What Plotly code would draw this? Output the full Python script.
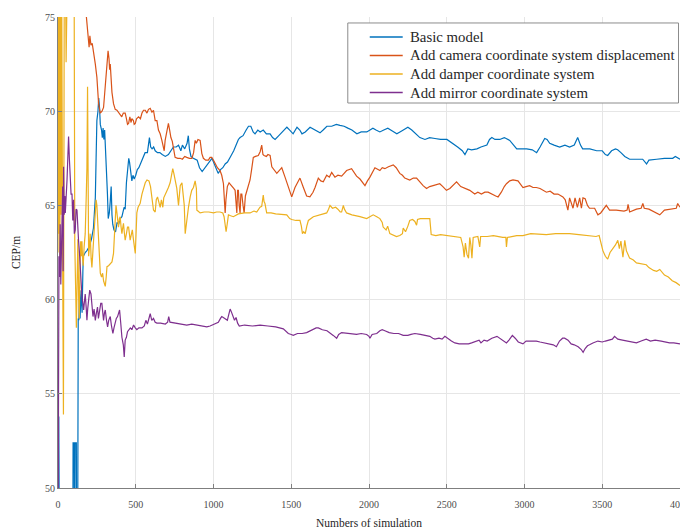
import plotly.graph_objects as go

# ---------------- data ----------------
basic_x = [0, 5, 10, 95, 97, 104, 106, 110, 118, 120, 126, 130, 134, 138, 142, 148, 155, 160, 163, 175, 186, 200, 215, 228, 235, 240, 245, 250, 257, 262, 267, 272, 280, 285, 290, 295, 300, 305, 312, 318, 323, 330, 336, 342, 347, 352, 360, 370, 380, 390, 400, 411, 425, 432, 440, 447, 455, 460, 468, 475, 482, 490, 500, 510, 520, 530, 545, 560, 575, 588, 596, 605, 615, 625, 640, 655, 670, 690, 710, 725, 742, 760, 775, 790, 800, 815, 830, 838, 845, 855, 870, 895, 910, 927, 945, 960, 978, 990, 1000, 1015, 1030, 1045, 1060, 1075, 1090, 1110, 1130, 1150, 1160, 1171, 1190, 1210, 1225, 1240, 1255, 1267, 1285, 1300, 1320, 1340, 1364, 1380, 1396, 1420, 1445, 1472, 1490, 1512, 1537, 1555, 1569, 1590, 1621, 1650, 1685, 1705, 1729, 1760, 1790, 1813, 1840, 1864, 1890, 1922, 1950, 1986, 2025, 2045, 2070, 2095, 2121, 2150, 2179, 2210, 2250, 2275, 2300, 2327, 2360, 2390, 2424, 2460, 2501, 2520, 2540, 2570, 2600, 2617, 2636, 2660, 2694, 2720, 2758, 2775, 2790, 2810, 2841, 2870, 2905, 2930, 2950, 2980, 3014, 3050, 3078, 3100, 3130, 3145, 3162, 3190, 3226, 3260, 3290, 3320, 3342, 3360, 3374, 3420, 3464, 3500, 3520, 3535, 3560, 3585, 3599, 3620, 3645, 3676, 3720, 3760, 3785, 3800, 3850, 3900, 3953, 3970, 4000]
basic_y = [45, 53.8, 45, 45, 52.4, 52.4, 45, 52.4, 52.4, 45, 45, 59, 58.9, 60.3, 59, 60.5, 59.3, 61.5, 62.3, 62.5, 62.6, 62.8, 63.2, 63.8, 64.5, 65.4, 67.5, 69.5, 70.0, 70.7, 70.2, 69.3, 69.0, 68.6, 69.1, 68.5, 69.0, 68.2, 67.0, 65.6, 64.3, 64.6, 65.2, 66.0, 64.5, 64.0, 63.7, 63.6, 64.1, 64.0, 64.3, 64.4, 64.9, 64.8, 66.2, 66.9, 67.5, 67.3, 66.6, 66.3, 66.6, 66.4, 66.6, 66.9, 67.0, 67.2, 67.4, 67.8, 67.8, 68.6, 68.1, 68.0, 68.1, 67.9, 67.8, 67.8, 67.7, 67.6, 67.7, 67.9, 68.1, 68.1, 68.2, 67.9, 68.2, 68.0, 68.3, 68.7, 68.0, 67.6, 67.5, 67.4, 67.0, 66.8, 67.0, 67.2, 67.4, 67.5, 67.3, 67.0, 66.7, 66.9, 67.0, 67.2, 67.3, 67.6, 67.9, 68.3, 68.5, 68.6, 68.7, 69.0, 69.2, 69.2, 68.9, 68.8, 69.0, 68.9, 69.0, 68.8, 68.8, 68.6, 68.5, 68.7, 68.9, 69.15, 69.0, 68.8, 69.15, 69.0, 68.8, 68.9, 69.15, 69.0, 68.85, 69.0, 69.2, 69.2, 69.3, 69.25, 69.2, 69.1, 69.0, 68.8, 68.9, 68.9, 69.1, 69.0, 68.9, 69.0, 69.1, 68.95, 68.8, 68.95, 69.15, 69.0, 68.8, 68.6, 68.5, 68.6, 68.55, 68.5, 68.5, 68.4, 68.3, 68.1, 67.9, 67.7, 68.0, 67.95, 68.0, 68.1, 68.2, 68.5, 68.6, 68.5, 68.5, 68.6, 68.45, 68.2, 68.0, 68.0, 68.0, 67.95, 67.8, 68.1, 68.55, 68.5, 68.3, 68.2, 68.1, 68.2, 68.1, 68.2, 68.6, 68.2, 68.0, 68.0, 67.9, 67.9, 67.7, 67.65, 67.9, 68.0, 67.95, 67.8, 67.6, 67.45, 67.45, 67.45, 67.2, 67.4, 67.45, 67.5, 67.5, 67.6, 67.45]

camera_x = [0, 5, 8, 12, 18, 24, 60, 150, 180, 190, 195, 200, 205, 212, 220, 229, 240, 250, 261, 272, 283, 293, 305, 315, 322, 328, 332, 336, 342, 347, 357, 368, 379, 390, 400, 410, 420, 432, 440, 447, 454, 462, 470, 475, 485, 490, 497, 505, 518, 530, 540, 550, 561, 572, 582, 593, 604, 614, 625, 636, 646, 657, 668, 678, 683, 689, 696, 703, 710, 718, 726, 735, 742, 753, 770, 786, 800, 815, 828, 845, 861, 872, 882, 890, 900, 914, 925, 935, 950, 967, 978, 989, 1000, 1010, 1025, 1042, 1053, 1064, 1070, 1075, 1080, 1089, 1100, 1118, 1130, 1139, 1145, 1150, 1155, 1160, 1165, 1171, 1176, 1182, 1190, 1197, 1205, 1214, 1225, 1235, 1245, 1256, 1270, 1288, 1300, 1310, 1318, 1325, 1340, 1350, 1364, 1375, 1407, 1439, 1460, 1481, 1503, 1524, 1545, 1556, 1578, 1599, 1620, 1640, 1653, 1674, 1690, 1706, 1728, 1745, 1760, 1781, 1800, 1824, 1840, 1856, 1888, 1905, 1920, 1942, 1974, 1990, 2006, 2038, 2055, 2070, 2085, 2102, 2125, 2156, 2175, 2198, 2215, 2230, 2262, 2285, 2306, 2330, 2348, 2370, 2390, 2412, 2435, 2455, 2475, 2498, 2520, 2545, 2563, 2590, 2616, 2648, 2680, 2700, 2723, 2745, 2766, 2798, 2815, 2830, 2851, 2870, 2884, 2905, 2926, 2958, 2975, 2990, 3010, 3033, 3055, 3076, 3100, 3120, 3141, 3165, 3190, 3215, 3247, 3262, 3269, 3279, 3290, 3300, 3312, 3325, 3340, 3355, 3366, 3376, 3390, 3405, 3418, 3451, 3472, 3490, 3504, 3526, 3547, 3590, 3640, 3660, 3666, 3676, 3720, 3750, 3761, 3770, 3800, 3847, 3870, 3900, 3940, 3976, 3985, 4000]
camera_y = [77, 74.2, 73.8, 76.5, 74.3, 77, 80, 78, 75.3, 74.2, 74.0, 73.4, 74.0, 73.5, 73.6, 73.2, 72.5, 71.8, 70.4, 69.9, 70.0, 70.2, 71.5, 72.35, 73.2, 72.8, 72.2, 72.5, 71.6, 71.0, 70.4, 70.1, 70.05, 69.9, 69.8, 69.7, 69.9, 69.9, 69.6, 69.3, 69.35, 69.7, 69.4, 69.6, 69.5, 69.3, 69.35, 69.6, 69.7, 69.6, 69.9, 70.05, 70.05, 69.9, 70.1, 70.15, 69.95, 70.05, 69.5, 69.5, 69.0, 68.8, 68.45, 68.1, 67.9, 68.45, 68.8, 69.2, 69.35, 69.0, 68.6, 68.4, 68.1, 67.55, 67.5, 67.5, 67.45, 67.6, 67.55, 67.5, 67.5, 67.8, 68.45, 68.3, 68.5, 68.45, 67.75, 67.5, 67.4, 67.4, 67.55, 67.55, 67.4, 67.2, 67.0, 66.85, 66.6, 66.15, 65.2, 64.6, 65.3, 66.0, 66.2, 66.05, 65.9, 65.8, 65.2, 64.6, 65.8, 65.8, 65.0, 64.6, 65.6, 65.6, 65.0, 64.6, 65.5, 65.8, 66.1, 66.35, 66.9, 67.55, 67.6, 67.65, 67.85, 68.2, 67.7, 67.65, 67.6, 67.7, 67.65, 67.05, 66.7, 67.0, 66.5, 65.95, 65.45, 65.95, 66.3, 66.45, 65.95, 65.5, 65.45, 65.7, 65.95, 66.45, 66.3, 66.25, 66.6, 66.5, 66.75, 66.5, 66.6, 66.55, 66.7, 66.85, 66.95, 66.7, 66.55, 66.4, 66.05, 66.3, 66.5, 67.0, 66.9, 66.85, 67.0, 66.95, 67.05, 67.15, 67.0, 66.7, 66.6, 66.45, 66.35, 66.45, 66.45, 66.2, 66.05, 65.9, 66.0, 66.05, 66.1, 66.15, 66.0, 65.8, 65.9, 66.1, 66.25, 66.0, 65.9, 65.8, 65.6, 65.7, 65.6, 65.7, 65.7, 65.55, 65.5, 65.45, 65.7, 66.0, 66.15, 66.3, 66.35, 66.3, 66.1, 65.95, 66.0, 66.05, 65.95, 65.95, 65.9, 65.8, 65.7, 65.75, 65.6, 65.6, 65.45, 65.3, 65.0, 64.75, 65.4, 65.1, 64.85, 65.4, 64.9, 65.4, 64.85, 65.4, 65.35, 65.0, 64.85, 64.85, 64.5, 64.6, 64.75, 65.0, 64.75, 64.75, 64.7, 64.75, 65.05, 64.65, 64.8, 64.85, 65.1, 64.85, 64.8, 64.6, 64.5, 64.75, 64.8, 64.85, 65.1, 64.9]

damper_x = [0, 3, 6, 9, 12, 16, 20, 24, 30, 35, 40, 48, 52, 56, 65, 100, 104, 108, 113, 118, 123, 128, 133, 137, 142, 146, 150, 154, 158, 162, 168, 175, 182, 186, 190, 194, 197, 202, 207, 213, 218, 224, 229, 235, 240, 245, 250, 255, 261, 266, 272, 280, 287, 293, 300, 304, 310, 315, 325, 336, 347, 357, 362, 368, 373, 379, 384, 389, 395, 400, 405, 411, 416, 421, 426, 432, 440, 447, 454, 459, 464, 470, 478, 485, 490, 497, 502, 507, 515, 528, 540, 550, 561, 572, 585, 595, 603, 610, 614, 625, 632, 640, 650, 657, 665, 674, 680, 689, 700, 710, 721, 732, 738, 745, 755, 764, 775, 786, 797, 807, 812, 818, 823, 828, 839, 850, 860, 871, 882, 890, 893, 900, 914, 940, 970, 1000, 1020, 1042, 1060, 1068, 1075, 1081, 1088, 1096, 1110, 1128, 1160, 1200, 1235, 1260, 1278, 1290, 1299, 1310, 1320, 1325, 1331, 1342, 1370, 1400, 1440, 1471, 1490, 1503, 1530, 1556, 1565, 1572, 1580, 1590, 1600, 1610, 1642, 1680, 1700, 1728, 1740, 1749, 1765, 1785, 1800, 1815, 1824, 1835, 1842, 1856, 1890, 1920, 1942, 1985, 2010, 2027, 2050, 2070, 2085, 2091, 2110, 2120, 2134, 2150, 2177, 2198, 2215, 2220, 2235, 2250, 2262, 2280, 2295, 2306, 2312, 2330, 2380, 2391, 2400, 2430, 2460, 2500, 2590, 2605, 2612, 2620, 2630, 2640, 2648, 2655, 2662, 2670, 2700, 2712, 2718, 2760, 2800, 2860, 2880, 2884, 2890, 2950, 2990, 3040, 3100, 3140, 3200, 3290, 3350, 3418, 3460, 3480, 3504, 3520, 3535, 3550, 3570, 3585, 3600, 3610, 3620, 3633, 3645, 3655, 3676, 3700, 3720, 3745, 3783, 3800, 3830, 3850, 3870, 3900, 3925, 3950, 3975, 4000]
damper_y = [62.5, 75.5, 63.5, 76, 61.6, 77, 64.5, 76, 62, 53.9, 75.5, 78, 72.6, 76, 80, 80, 76, 63.0, 60.5, 58.5, 61, 63.2, 60, 59, 62, 63.1, 62.3, 63.1, 62.2, 61.8, 62.8, 63.5, 65.6, 67, 71.3, 66, 62.3, 62.8, 63.5, 62.2, 61.7, 62.5, 63.2, 64.0, 64.9, 65.3, 65.0, 64.2, 63.5, 62.5, 61.4, 61.2, 61.4, 61.0, 60.8, 60.7, 61.2, 61.75, 61.8, 61.9, 62.0, 62.45, 63.5, 64.75, 65.0, 64.6, 64.1, 63.85, 64.3, 64.4, 63.9, 63.5, 63.8, 64.05, 63.6, 63.15, 63.5, 63.85, 63.85, 63.4, 63.15, 63.4, 63.7, 63.2, 62.8, 62.45, 63.5, 64.6, 64.9, 65.1, 65.6, 65.95, 66.2, 66.35, 66.3, 66.0, 65.3, 65.1, 64.75, 64.65, 65.3, 65.45, 65.1, 64.9, 65.3, 64.9, 65.4, 65.55, 65.8, 65.95, 66.2, 66.7, 66.95, 66.7, 66.2, 65.9, 65.0, 66.05, 66.2, 65.4, 65.0, 63.5, 63.9, 64.4, 64.9, 65.45, 65.8, 65.95, 66.3, 65.9, 64.75, 64.7, 64.6, 64.65, 64.65, 64.6, 64.65, 64.65, 64.6, 64.4, 63.9, 63.6, 64.0, 64.5, 64.45, 64.4, 64.55, 64.6, 64.6, 64.7, 64.65, 64.8, 64.9, 64.95, 65.55, 65.2, 65.1, 64.6, 64.6, 64.55, 64.5, 64.5, 64.3, 64.25, 64.2, 64.2, 63.9, 63.5, 63.6, 63.5, 63.9, 64.2, 64.4, 64.5, 64.55, 64.6, 64.8, 65.0, 64.85, 64.9, 64.8, 64.65, 64.65, 65.0, 64.8, 64.6, 64.5, 64.45, 64.4, 64.3, 64.4, 64.5, 64.4, 64.3, 64.1, 63.85, 63.7, 63.9, 63.5, 63.45, 63.35, 63.4, 63.5, 63.8, 63.6, 63.9, 64.2, 64.25, 64.15, 63.95, 64.25, 64.3, 64.3, 64.3, 63.45, 63.4, 63.45, 63.4, 63.3, 62.8, 62.25, 63.0, 62.4, 62.2, 63.3, 62.9, 62.2, 63.3, 63.35, 62.8, 63.35, 63.35, 63.4, 63.3, 63.3, 62.8, 63.3, 63.4, 63.4, 63.5, 63.45, 63.45, 63.5, 63.5, 63.45, 63.4, 63.35, 63.4, 62.6, 62.3, 62.15, 62.5, 62.7, 62.9, 63.15, 62.7, 63.1, 62.25, 63.15, 62.6, 62.2, 62.1, 61.95, 61.9, 61.85, 61.7, 61.55, 61.5, 61.6, 61.3, 61.2, 61.0, 60.9, 60.75]

mirror_x = [0, 4, 6, 10, 14, 18, 22, 25, 30, 33, 36, 40, 44, 47, 52, 58, 63, 68, 73, 79, 84, 90, 95, 100, 105, 111, 116, 122, 127, 132, 138, 143, 149, 154, 160, 165, 170, 175, 181, 186, 191, 197, 204, 212, 218, 225, 232, 240, 247, 254, 260, 268, 275, 282, 287, 293, 299, 304, 312, 319, 326, 336, 344, 353, 360, 368, 375, 383, 390, 396, 403, 411, 420, 426, 432, 440, 447, 454, 465, 475, 486, 497, 507, 520, 540, 555, 565, 575, 585, 593, 603, 614, 625, 636, 660, 690, 705, 712, 720, 760, 800, 828, 860, 900, 935, 957, 978, 1000, 1020, 1031, 1045, 1053, 1063, 1075, 1089, 1098, 1107, 1115, 1125, 1135, 1145, 1155, 1166, 1200, 1250, 1300, 1350, 1400, 1449, 1465, 1481, 1500, 1513, 1540, 1570, 1599, 1620, 1642, 1660, 1674, 1700, 1730, 1749, 1770, 1792, 1805, 1824, 1870, 1920, 1950, 1985, 2000, 2006, 2020, 2050, 2070, 2085, 2102, 2130, 2160, 2190, 2220, 2250, 2270, 2295, 2330, 2360, 2391, 2410, 2424, 2450, 2470, 2488, 2510, 2530, 2552, 2580, 2605, 2640, 2660, 2690, 2708, 2720, 2740, 2760, 2790, 2823, 2850, 2870, 2884, 2900, 2922, 2940, 2960, 2990, 3010, 3040, 3076, 3100, 3130, 3160, 3185, 3205, 3225, 3245, 3258, 3280, 3300, 3320, 3345, 3365, 3377, 3390, 3405, 3418, 3440, 3472, 3500, 3520, 3545, 3565, 3579, 3600, 3630, 3660, 3676, 3700, 3720, 3750, 3783, 3810, 3840, 3879, 3900, 3933, 3960, 4000]
mirror_y = [45, 61.4, 62.3, 61.2, 64, 60.8, 63.0, 63.5, 66, 61.5, 67.05, 64.5, 65.5, 64.6, 66.0, 66.35, 67.5, 68.65, 67.5, 66.7, 65.6, 65.6, 64.2, 65.3, 63.5, 63.7, 64.8, 64.75, 63.5, 63.15, 62.5, 61.75, 60.6, 60.15, 59.8, 59.45, 59.9, 60.3, 59.6, 58.9, 59.5, 59.95, 60.5, 60.3, 59.6, 59.1, 59.5, 58.9, 59.3, 59.6, 59.0, 59.6, 59.8, 59.8, 59.1, 58.9, 59.3, 59.45, 58.9, 58.55, 58.9, 59.1, 58.6, 58.2, 58.5, 58.8, 59.0, 59.1, 59.3, 59.45, 58.8, 58.0, 57.6, 56.95, 57.85, 58.0, 58.3, 58.4, 58.5, 58.4, 58.65, 58.5, 58.4, 58.5, 58.5, 58.6, 58.9, 58.7, 59.0, 59.25, 58.9, 59.0, 58.8, 58.75, 58.75, 58.7, 58.8, 59.1, 58.8, 58.75, 58.7, 58.65, 58.7, 58.65, 58.6, 58.55, 58.6, 58.7, 58.75, 58.8, 59.0, 59.1, 59.05, 59.0, 58.9, 59.2, 59.5, 59.35, 59.1, 58.9, 59.05, 58.75, 58.6, 58.65, 58.6, 58.65, 58.6, 58.55, 58.45, 58.3, 58.2, 58.15, 58.1, 58.2, 58.2, 58.25, 58.35, 58.45, 58.5, 58.5, 58.4, 58.35, 58.25, 58.1, 57.95, 58.15, 58.25, 58.2, 58.15, 58.2, 58.15, 58.05, 57.95, 58.15, 58.2, 58.35, 58.4, 58.35, 58.25, 58.2, 58.2, 58.1, 58.1, 58.15, 58.2, 58.15, 58.1, 58.05, 57.95, 57.9, 57.95, 57.9, 58.05, 57.9, 57.8, 57.7, 57.65, 57.65, 57.65, 57.7, 57.8, 57.85, 57.7, 57.85, 57.8, 57.95, 58.05, 57.9, 57.75, 57.7, 57.85, 58.1, 57.95, 57.75, 57.65, 57.8, 57.8, 57.8, 57.75, 57.7, 57.65, 57.6, 57.5, 57.8, 57.95, 57.95, 57.85, 57.65, 57.6, 57.5, 57.35, 57.2, 57.4, 57.55, 57.6, 57.7, 57.8, 57.75, 57.8, 57.85, 57.9, 58.05, 57.9, 57.85, 57.8, 57.75, 57.75, 57.7, 57.8, 57.9, 57.8, 57.85, 57.8, 57.75, 57.7, 57.7, 57.65]

series_names = ["Basic model",
                "Add camera coordinate system displacement",
                "Add damper coordinate system",
                "Add mirror coordinate system"]
series_colors = ["#0072BD", "#D95319", "#EDB120", "#7E2F8E"]

x_ticks = [0, 500, 1000, 1500, 2000, 2500, 3000, 3500, 4000]
y_ticks = [50, 55, 60, 65, 70, 75]

# ---------------- figure ----------------
fig = go.Figure()
for xs, ys, name, col in zip([basic_x, camera_x, damper_x, mirror_x],
                             [basic_y, camera_y, damper_y, mirror_y],
                             series_names, series_colors):
    fig.add_trace(go.Scatter(x=xs, y=ys, mode="lines", name=name,
                             line=dict(color=col, width=1.2), showlegend=False))

serif = "Liberation Serif, Times New Roman, serif"

# MATLAB-style legend: framed box, short line samples and text entries
leg_box = dict(x0=0.4659, x1=0.9976, y0=0.8174, y1=0.9873)
leg_line_x = (0.5012, 0.5542)
leg_text_x = 0.5622
leg_rows_y = [0.9575, 0.9183, 0.8790, 0.8397]

shapes = [dict(type="rect", xref="paper", yref="paper", layer="above",
               line=dict(color="#8c8c8c", width=1), fillcolor="white", **leg_box)]
annotations = []
for name, col, yy in zip(series_names, series_colors, leg_rows_y):
    shapes.append(dict(type="line", xref="paper", yref="paper", layer="above",
                       x0=leg_line_x[0], x1=leg_line_x[1], y0=yy, y1=yy,
                       line=dict(color=col, width=1.5)))
    annotations.append(dict(text=name, xref="paper", yref="paper", x=leg_text_x, y=yy,
                            xanchor="left", yanchor="middle", showarrow=False,
                            font=dict(family=serif, size=14.8, color="#262626")))

fig.update_layout(
    width=680, height=521,
    margin=dict(l=50, r=7.5, t=9, b=41, autoexpand=False),
    plot_bgcolor="white", paper_bgcolor="white",
    font=dict(family=serif, size=11, color="#262626"),
    showlegend=False,
    shapes=shapes, annotations=annotations,
)
fig.update_xaxes(range=[0, 4000], tickvals=x_ticks, ticks="inside", ticklen=4,
                 tickcolor="#7f7f7f", showline=True, linecolor="#7f7f7f", linewidth=1,
                 showgrid=True, gridcolor="#e6e6e6", gridwidth=1, zeroline=False,
                 automargin=False, ticklabelstandoff=7, ticklabeloverflow="allow",
                 tickfont=dict(family=serif, size=10, color="#4d4d4d"),
                 title=dict(text="Numbers of simulation", standoff=9,
                            font=dict(family=serif, size=11.5, color="#262626")))
fig.update_yaxes(range=[50, 75], tickvals=y_ticks, ticks="inside", ticklen=4,
                 tickcolor="#7f7f7f", showline=True, linecolor="#7f7f7f", linewidth=1,
                 showgrid=True, gridcolor="#e6e6e6", gridwidth=1, zeroline=False,
                 automargin=False, ticklabeloverflow="allow",
                 tickfont=dict(family=serif, size=10, color="#4d4d4d"),
                 title=dict(text="CEP/m", standoff=21,
                            font=dict(family=serif, size=11.5, color="#262626")))

fig.write_html("out.html")
